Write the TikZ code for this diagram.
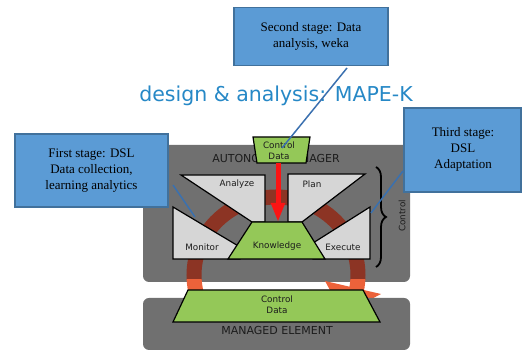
\documentclass[tikz,border=0pt]{standalone}
\usepackage{fontspec}
\setmainfont{Liberation Serif}
\newfontfamily\uisans{DejaVu Sans}
\usetikzlibrary{arrows.meta,decorations.pathreplacing}
\definecolor{boxblue}{RGB}{91,155,213}
\definecolor{boxedge}{RGB}{65,113,156}
\definecolor{lineblue}{RGB}{58,112,175}
\definecolor{titleblue}{RGB}{38,136,198}
\definecolor{panelgray}{RGB}{112,112,112}
\definecolor{shapegray}{RGB}{214,214,214}
\definecolor{kgreen}{RGB}{148,200,88}
\definecolor{ringbrown}{RGB}{140,52,36}
\definecolor{ringorange}{RGB}{236,98,58}
\definecolor{arrowred}{RGB}{250,20,20}
\definecolor{labeltext}{RGB}{28,28,28}
\tikzset{
  panel/.style={fill=panelgray, rounded corners=6pt},
  stageshape/.style={fill=shapegray, draw=black, line width=1.2pt, line join=miter},
  greenshape/.style={fill=kgreen, draw=black, line width=1.2pt},
  ringline/.style={line width=15pt},
  lbl/.style={font=\uisans\fontsize{8.8}{11}\selectfont, text=labeltext, inner sep=0pt, align=center},
  capslbl/.style={font=\uisans\fontsize{11}{13}\selectfont, text=labeltext, inner sep=0pt},
  stagebox/.style={draw=boxedge, fill=boxblue, line width=1.5pt, inner sep=0pt},
  stagetext/.style={font=\fontsize{13}{16}\selectfont, align=center, inner sep=0pt},
  pointer/.style={draw=lineblue, line width=1.5pt},
}
\begin{document}
\begin{tikzpicture}[x=1pt,y=-1pt]
\useasboundingbox (0,0) rectangle (523,352);

% title
\node[anchor=base, font=\uisans\fontsize{20.5}{24}\selectfont, text=titleblue, inner sep=0pt] (title) at (276,102) {design \& analysis: MAPE-K};

% autonomic manager panel
\path[panel] (143,145) rectangle (410,282);

% feedback ring
\begin{scope}
  \clip (140,140) rectangle (420,280);
  \draw[ringline, ringbrown] (276,275) ellipse [x radius=82, y radius=78];
\end{scope}
\begin{scope}
  \clip (140,280) rectangle (420,300);
  \draw[ringline, ringorange] (276,275) ellipse [x radius=82, y radius=78];
\end{scope}
\fill[ringorange] (325,281) -- (381,294) -- (343,314) -- cycle;

\node[capslbl, anchor=base] (amtext) at (276,163) {AUTONOMIC MANAGER};

% MAPE stages
\draw[stageshape] (181,175) -- (265,175) -- (265,222) -- (252,222) -- cycle;
\draw[stageshape] (288,174) -- (365,174) -- (302,222) -- (288,222) -- cycle;
\draw[stageshape] (173,207) -- (240,247) -- (240,259) -- (173,259) -- cycle;
\draw[stageshape] (370,207) -- (313,243) -- (313,259) -- (370,259) -- cycle;
\draw[greenshape] (252,222) -- (302,222) -- (325,259) -- (228,259) -- cycle;

\node[lbl] (analyze) at (237,184) {Analyze};
\node[lbl] (plan) at (312,184) {Plan};
\node[lbl] (monitor) at (202,247) {Monitor};
\node[lbl] (execute) at (343,247) {Execute};
\node[lbl] (knowledge) at (277,246) {Knowledge};

% top control data
\draw[greenshape] (253,137) -- (310,137) -- (306,163) -- (257,163) -- cycle;
\node[lbl] (cdtop) at (279,151) {Control\\Data};
\coordinate (cdbottom) at (278,163);
\coordinate (knowtop) at (278,222);
\draw[arrowred, line width=5pt, -{Triangle[width=13pt,length=19pt]}] (cdbottom) -- (knowtop);

% brace and control label
\coordinate (bracetop) at (376,167);
\coordinate (bracebot) at (376,267);
\draw[line width=1.8pt, decorate, decoration={brace, amplitude=10pt}] (bracetop) -- (bracebot);
\node[lbl, rotate=90] (controltext) at (402,216) {Control};

% managed element panel
\path[panel] (143,298) rectangle (410,350);
\draw[greenshape] (188,290) -- (363,290) -- (380,322) -- (173,322) -- cycle;
\node[lbl] (cdbot) at (277,305) {Control\\Data};
\node[capslbl, anchor=base] (metext) at (277,335) {MANAGED ELEMENT};

% stage call-outs
\node[stagebox, minimum width=153pt, minimum height=73pt] (first) at (91.5,170.5) {};
\node[stagetext] (firsttext) at (91.5,171) {First stage: DSL\\Data collection,\\learning analytics};
\node[stagebox, minimum width=154pt, minimum height=58pt] (second) at (311,36.5) {};
\node[stagetext] (secondtext) at (311,36) {Second stage: Data\\analysis, weka};
\node[stagebox, minimum width=117pt, minimum height=84pt] (third) at (462.5,150) {};
\node[stagetext] (thirdtext) at (463,149) {Third stage:\\DSL\\Adaptation};

% pointers
\coordinate (p1a) at (173,185);
\coordinate (p1b) at (195,217);
\coordinate (p2a) at (347,68);
\coordinate (p2b) at (282,148);
\coordinate (p3a) at (403,171);
\coordinate (p3b) at (371,213);
\draw[pointer] (p1a) -- (p1b);
\draw[pointer] (p2a) -- (p2b);
\draw[pointer] (p3a) -- (p3b);
\end{tikzpicture}
\end{document}
